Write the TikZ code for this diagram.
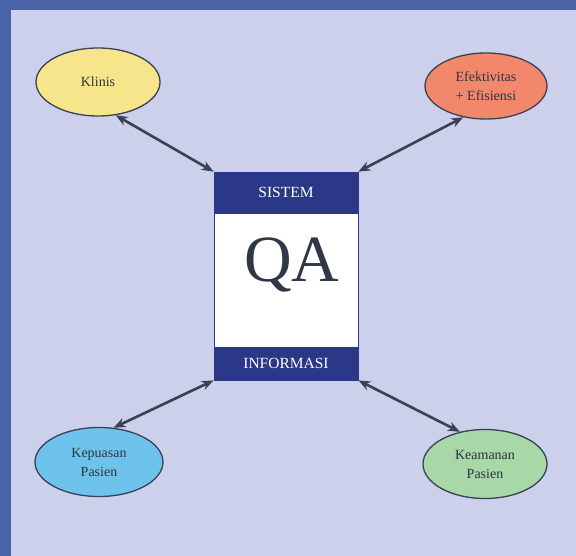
\documentclass[tikz,border=0pt]{standalone}
\usepackage{fontspec}
\setmainfont{Liberation Serif}
\usepackage{tikz}
\usetikzlibrary{arrows.meta,positioning,shapes.geometric}
\definecolor{qaFrame}{HTML}{4A62A8}
\definecolor{qaPanel}{HTML}{CDD0EA}
\definecolor{qaNavy}{HTML}{2B3888}
\definecolor{qaInk}{HTML}{3A4152}
\definecolor{qaYellow}{HTML}{F7E58C}
\definecolor{qaSalmon}{HTML}{F2876C}
\definecolor{qaSky}{HTML}{6DC3EC}
\definecolor{qaMint}{HTML}{A8D7A8}
\tikzset{
  aspect oval/.style={ellipse,draw=qaInk,line width=1.3pt,inner sep=0pt,
    minimum width=124pt,minimum height=68pt,align=center,
    font=\fontsize{14}{19}\selectfont,text=qaInk!80!black},
  qa band/.style={fill=qaNavy,minimum width=144pt,inner sep=0pt,text=white,
    font=\fontsize{15.5}{17}\selectfont},
  link arrow/.style={{Stealth[length=12pt,width=9.5pt]}-{Stealth[length=12pt,width=9.5pt]},
    line width=2.6pt,draw=qaInk}
}

\begin{document}
\begin{tikzpicture}[x=1pt,y=-1pt]
\useasboundingbox (0,0) rectangle (576,556);
\fill[qaFrame] (0,0) rectangle (576,556);
\fill[qaPanel] (11,10) rectangle (576,556);
\node[aspect oval,fill=qaYellow] (klinis) at (98,82) {Klinis};
\node[aspect oval,fill=qaSalmon,minimum width=122pt,minimum height=66pt] (efektif) at (486,86) {Efektivitas\\+ Efisiensi};
\node[aspect oval,fill=qaSky,minimum width=128pt,minimum height=69pt] (kepuasan) at (99,462) {Kepuasan\\Pasien};
\node[aspect oval,fill=qaMint,minimum height=69pt] (keamanan) at (485,464) {Keamanan\\Pasien};
\node[draw=qaNavy,line width=0.8pt,fill=white,minimum width=144pt,minimum height=208pt,inner sep=0pt] (qa) at (286,276) {};
\node[qa band,minimum height=42pt,anchor=north] (sistem) at (qa.north) {SISTEM};
\node[qa band,minimum height=33pt,anchor=south] (informasi) at (qa.south) {INFORMASI};
\node[anchor=base,inner sep=0pt,text=qaInk!85!black,font=\fontsize{66}{66}\selectfont] (qa label) at (292,282) {QA};
\draw[link arrow] (klinis.-62) -- (qa.north west);
\draw[link arrow] (efektif.-126) -- (qa.north east);
\draw[link arrow] (kepuasan.67) -- (qa.south west);
\draw[link arrow] (keamanan.128) -- (qa.south east);
\end{tikzpicture}
\end{document}
